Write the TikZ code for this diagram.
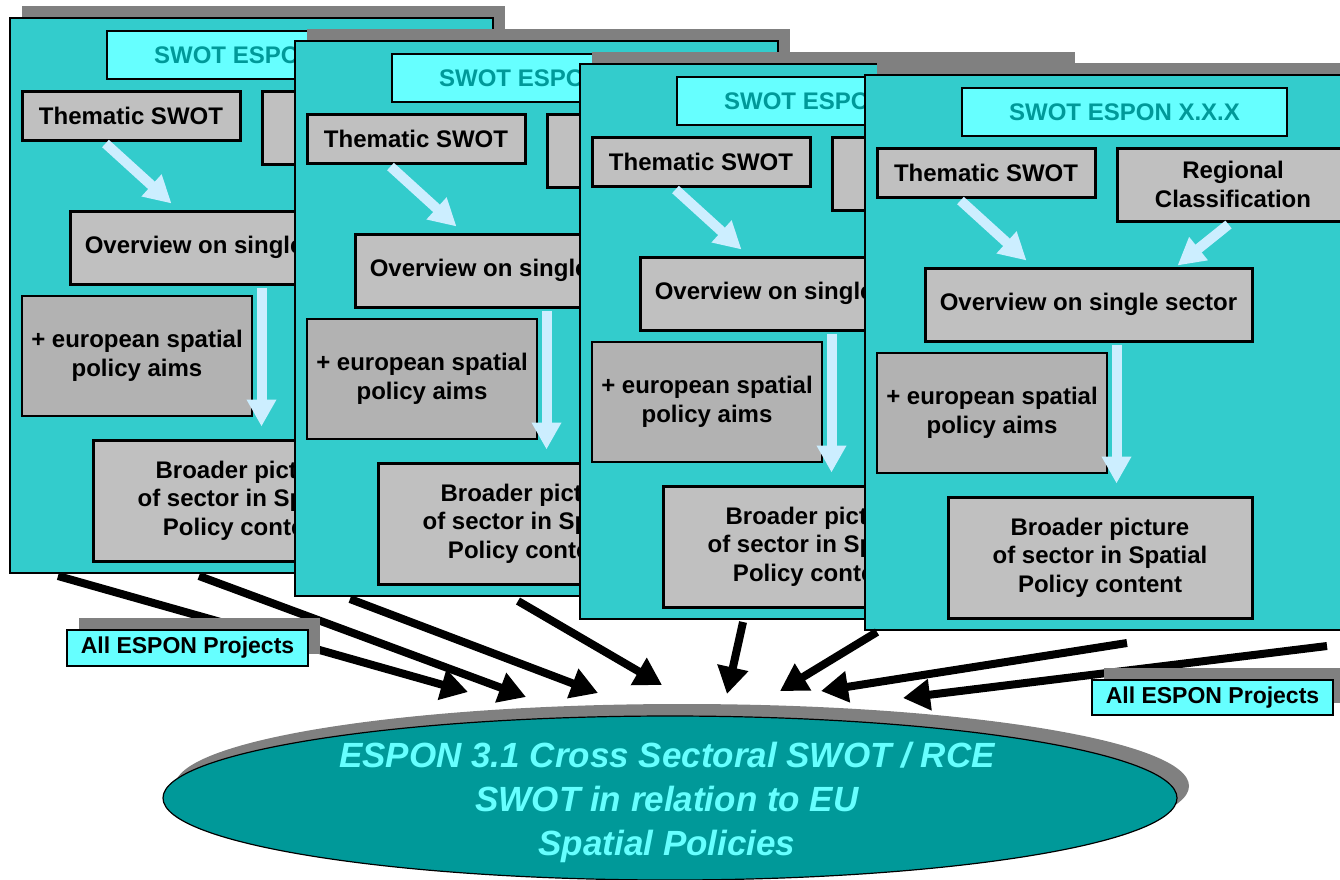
\documentclass[tikz,border=0pt]{standalone}
\usepackage{fontspec}
\setmainfont{Liberation Sans}
\usetikzlibrary{arrows.meta,shapes.geometric}
\definecolor{cardfill}{HTML}{33CCCC}
\definecolor{titlefill}{HTML}{66FFFF}
\definecolor{titletext}{HTML}{009999}
\definecolor{boxgray}{HTML}{C0C0C0}
\definecolor{eurgray}{HTML}{B2B2B2}
\definecolor{shadowgray}{HTML}{808080}
\definecolor{lightarrow}{HTML}{CCEEFF}
\definecolor{ellfill}{HTML}{009999}
\definecolor{elltext}{HTML}{66FFFF}
\tikzset{
  shadowr/.style={fill=shadowgray, draw=none, inner sep=0pt},
  cardr/.style={fill=cardfill, draw=black, line width=1.2pt, inner sep=0pt},
  titler/.style={fill=titlefill, draw=black, line width=1.4pt, inner sep=0pt, text=titletext,
    font=\bfseries\fontsize{24pt}{28.5pt}\selectfont},
  gbox/.style={fill=boxgray, draw=black, line width=3pt, inner sep=0pt, align=center,
    font=\bfseries\fontsize{24pt}{28.5pt}\selectfont},
  ebox/.style={fill=eurgray, draw=black, line width=1.4pt, inner sep=0pt, align=center,
    font=\bfseries\fontsize{24pt}{28.5pt}\selectfont},
  projbox/.style={fill=titlefill, draw=black, line width=1.4pt, inner sep=0pt,
    font=\bfseries\fontsize{23pt}{27pt}\selectfont},
  larrow/.style={draw=lightarrow, line width=10pt, -{Triangle[length=27pt,width=28pt]}},
  barrow/.style={draw=black, line width=8pt, -{Triangle[length=27pt,width=30pt]}},
  elltextst/.style={text=elltext, align=center, inner sep=0pt,
    font=\bfseries\itshape\fontsize{35pt}{44pt}\selectfont}
}
\newcommand{\bx}[7]{\node[#6, minimum width={#4-#2}, minimum height={#5-#3}] (#1) at ({(#2+#4)/2},{(#3+#5)/2}) {#7};}
% #1 name, #2 #3 shift, #4 text of the (mostly hidden) regional box
\newcommand{\drawcard}[4]{%
\begin{scope}[shift={(#2,#3)}]
  \bx{#1sh}{12}{-12}{495}{543}{shadowr}{}
  \bx{#1}{0}{0}{483}{555}{cardr}{}
  \bx{#1ti}{97}{13}{422}{61}{titler}{SWOT ESPON X.X.X}
  \bx{#1th}{12}{73}{230}{122}{gbox}{Thematic SWOT}
  \bx{#1rg}{252}{73}{484}{146}{gbox}{#4}
  \bx{#1ov}{60}{193}{387}{266}{gbox}{Overview on single sector}
  \bx{#1eu}{12}{278}{242}{398}{ebox}{+ european spatial\\policy aims}
  \bx{#1br}{83}{422}{387}{543}{gbox}{Broader picture\\of sector in Spatial\\Policy content}
  \draw[larrow] ([xshift=85pt,yshift=-2pt]#1th.south west) -- ([xshift=103pt,yshift=6pt]#1ov.north west);
  \draw[larrow] ([xshift=113pt,yshift=-2pt]#1rg.south west) -- ([xshift=254pt,yshift=1pt]#1ov.north west);
  \draw[larrow] ([xshift=193pt,yshift=-2pt]#1ov.south west) -- ([xshift=170pt,yshift=12pt]#1br.north west);
\end{scope}}
\begin{document}
\begin{tikzpicture}[x=1pt,y=-1pt]
\useasboundingbox (0,0) rectangle (1340,879);
\clip (0,0) rectangle (1340,879);
\drawcard{ca}{10}{18}{}
\drawcard{cb}{295}{41}{}
\drawcard{cc}{580}{64}{}
\drawcard{cd}{865}{75}{Regional\\Classification}
% black arrows
\coordinate (s1) at (58,576);   \coordinate (e1) at (468,692);
\coordinate (s2) at (199,576);  \coordinate (e2) at (526,697);
\coordinate (s3) at (350,599);  \coordinate (e3) at (598,693);
\coordinate (s4) at (518,601);  \coordinate (e4) at (662,685);
\coordinate (s5) at (743,622);  \coordinate (e5) at (727,694);
\coordinate (s6) at (877,632);  \coordinate (e6) at (780,691);
\coordinate (s7) at (1127,643); \coordinate (e7) at (821,691);
\coordinate (s8) at (1327,646); \coordinate (e8) at (903,698);
\foreach \i in {1,...,8} { \draw[barrow] (s\i) -- (e\i); }
% project boxes
\bx{pash}{79}{618}{320}{654}{shadowr}{}
\bx{pa}{67}{630}{308}{666}{projbox}{All ESPON Projects}
\bx{pbsh}{1104}{668}{1345}{703}{shadowr}{}
\bx{pb}{1092}{680}{1333}{715}{projbox}{All ESPON Projects}
% ellipse
\node[ellipse, fill=shadowgray, minimum width=1014pt, minimum height=164pt, inner sep=0pt] (ellsh) at (682,786) {};
\node[ellipse, fill=ellfill, draw=black, line width=1.2pt, minimum width=1014pt, minimum height=164pt, inner sep=0pt] (ell) at (670,798) {};
\node[elltextst] (ellt) at (667,802) {ESPON 3.1 Cross Sectoral SWOT / RCE\\SWOT in relation to EU\\Spatial Policies};
\end{tikzpicture}
\end{document}
